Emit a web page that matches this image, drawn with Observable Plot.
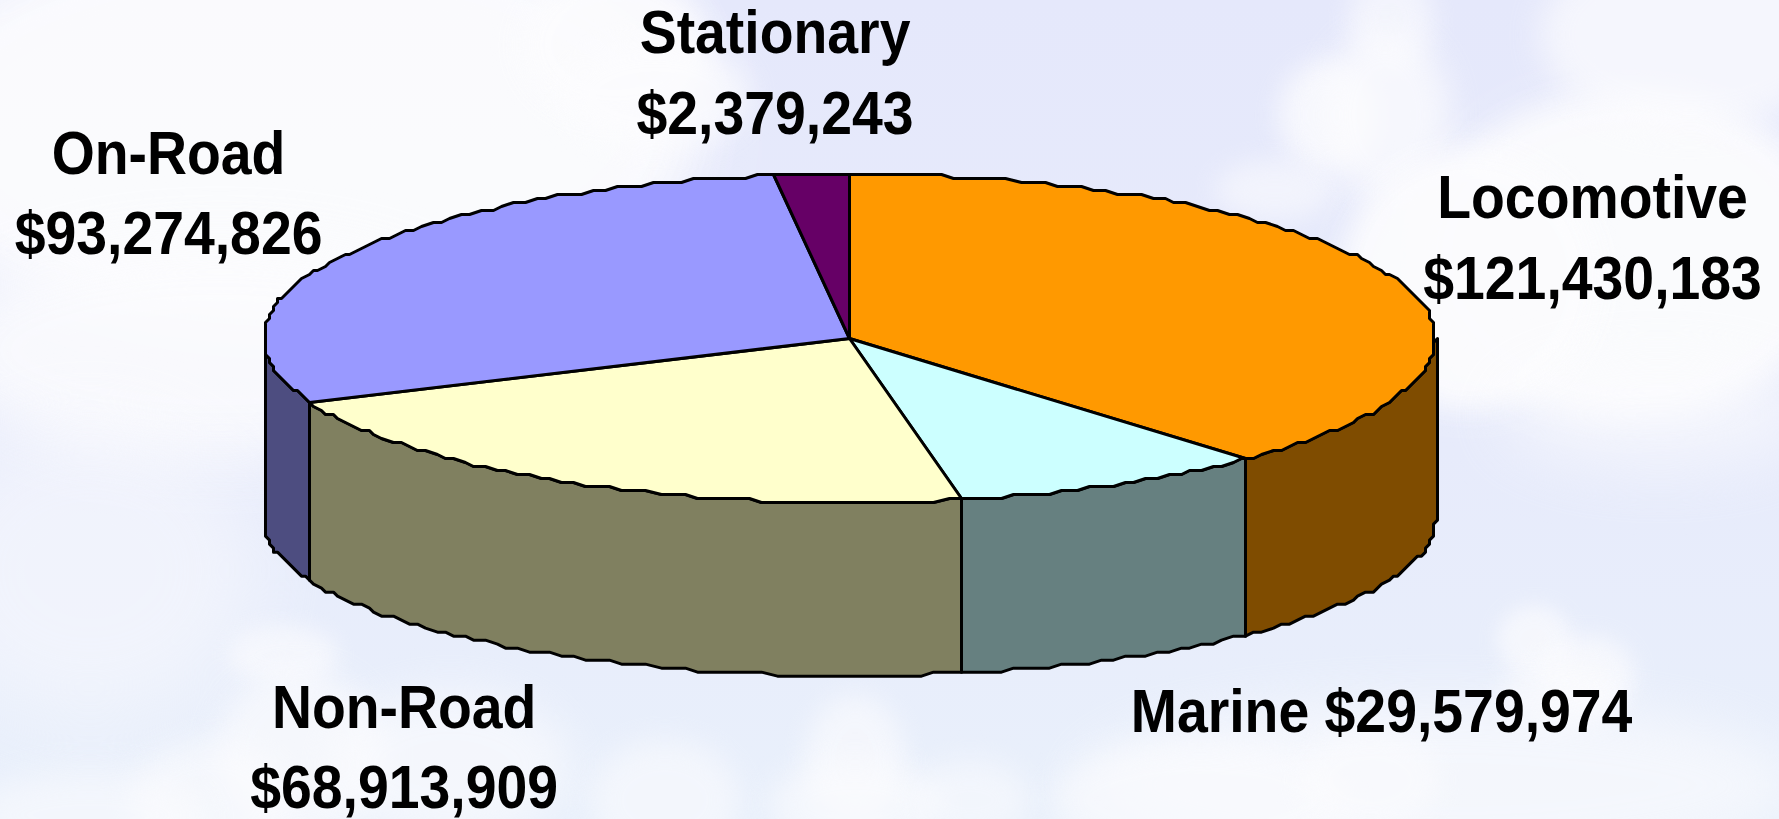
<!DOCTYPE html>
<html><head><meta charset="utf-8">
<script src="https://cdn.jsdelivr.net/npm/d3@7"></script>
<script src="https://cdn.jsdelivr.net/npm/@observablehq/plot@0.6"></script>
<style>
html,body{margin:0;padding:0;width:1779px;height:819px;overflow:hidden;background:linear-gradient(#e5e8fb 0,#e7ebfb 55%,#e9f0fb 100%)}
#sky{position:absolute;left:0;top:0;width:1779px;height:819px;overflow:hidden}
#sky i{position:absolute;display:block;border-radius:50%;background:#fcfcfe}
#chart{position:absolute;left:0;top:0}
#chart svg{display:block}
</style></head>
<body>
<div id="sky"></div>
<div id="chart"></div>
<script>
// Data
const categories = ["Locomotive", "Marine", "Non-Road", "On-Road", "Stationary"];
const dollars = [121430183, 29579974, 68913909, 93274826, 2379243];
// Sweep of each slice as actually drawn in the picture (degrees, clockwise from 12 o'clock)
const drawnSweep = [137.4, 31.6, 78.5, 105.2, 7.3];
const topColors = ["#ff9900", "#ccffff", "#ffffcc", "#9999ff", "#660066"];
const sideColors = ["#7f4c00", "#668080", "#808060", "#4d4d80", "#330033"];
const labelSeparators = ["\n", " ", "\n", "\n", "\n"];
const labelX = [1.268, 0.908, -0.76, -1.162, -0.127];
const labelY = [0.068, -0.672, -0.802, 0.144, 0.349];

// Disc geometry in disc-radius units
const tilt = 0.28, lowerTilt = 0.2654, depth = 0.31, unit = 586, cx = 849, cy = 338;
const rad = (d) => d * Math.PI / 180;
const q = 4 / unit; // the source picture's coarse pixel grid
const snap = (v) => Math.round(v / q) * q;
const rim = (t) => ({x: snap(Math.sin(rad(t))), y: snap(Math.cos(rad(t)) * tilt)});
const lowerRim = (t) => ({x: snap(Math.sin(rad(t))), y: snap(Math.cos(rad(t)) * lowerTilt) - depth});
function arc(a, b) {
  const ts = [a];
  for (let t = Math.ceil(a / 1.3) * 1.3; t < b; t += 1.3) if (t > a) ts.push(t);
  ts.push(b);
  return ts;
}
let acc = 0;
const slices = categories.map((name, i) => {
  const start = acc; acc += drawnSweep[i];
  return {name, start, end: acc, top: topColors[i], side: sideColors[i]};
});
const topPoly = (s) => [{x: 0, y: 0}, ...arc(s.start, s.end).map(rim), {x: 0, y: 0}];
const sidePoly = (s) => {
  const a = Math.max(s.start, 90), b = Math.min(s.end, 270);
  if (a >= b) return null;
  const ts = arc(a, b);
  const upper = ts.map(rim);
  const lower = ts.slice().reverse().map(lowerRim);
  return [...upper, ...lower, upper[0]];
};
const lineStyle = {x: "x", y: "y", stroke: "black", strokeWidth: 3, strokeLinejoin: "round", curve: "linear"};
const marks = [];
for (const s of slices) {
  const p = sidePoly(s);
  if (p) marks.push(Plot.line(p, {...lineStyle, fill: s.side}));
}
for (const s of slices) marks.push(Plot.line(topPoly(s), {...lineStyle, fill: s.top}));

const labels = categories.map((name, i) => ({
  text: name + labelSeparators[i] + d3.format("$,")(dollars[i]),
  x: labelX[i], y: labelY[i]
}));
marks.push(Plot.text(labels, {
  x: "x", y: "y", text: "text", textAnchor: "middle", lineAnchor: "bottom",
  lineHeight: 1.3, fontSize: 62, fontWeight: 700, fontFamily: "Liberation Sans", fill: "black"
}));

const chart = Plot.plot({
  width: 1779, height: 819, margin: 0,
  x: {domain: [-cx / unit, (1779 - cx) / unit], range: [0, 1779], axis: null},
  y: {domain: [cy / unit, (cy - 819) / unit], range: [0, 819], axis: null},
  style: {background: "transparent", overflow: "visible"},
  marks
});
document.getElementById("chart").appendChild(chart);
// The reference's lettering is stretched tall: narrow each label about its anchor
d3.select(chart).selectAll("text").each(function () {
  const tr = this.getAttribute("transform") || "";
  this.setAttribute("transform", tr + " scale(0.893,1)");
});

// Decorative cloud backdrop: [left, top, width, height, blur, opacity]
const clouds = [
  // upper-left bank
  [-120,-80,820,420,30,.95],[-60,240,560,220,30,.85],[520,-30,190,150,14,.9],[560,40,190,110,14,.75],
  [-80,420,340,300,40,.45],
  // right cloud: tower, shoulders, main mass
  [1348,-30,86,100,12,.6],[1278,60,100,110,12,.75],[1215,160,120,60,12,.55],[1320,30,130,170,16,.75],
  [1420,90,420,330,16,.95],[1540,-60,300,190,16,.7],[1340,150,260,260,14,.95],
  [1500,360,320,110,30,.55],
  // lower-right
  [1497,605,75,70,9,.65],[1540,635,95,80,10,.65],[1500,660,120,70,12,.6],
  [1080,700,720,170,26,.6],[1050,740,300,120,14,.55],[1300,730,140,100,12,.55],
  // lower-left and centre
  [228,625,110,60,10,.6],[215,670,170,170,14,.65],[130,740,160,120,14,.6],[-30,770,240,90,16,.55],
  [330,690,240,150,20,.6],[590,740,150,120,14,.55],
  [805,695,100,130,12,.6],[770,760,170,90,14,.6],[910,760,120,80,14,.5]
];
const sky = document.getElementById("sky");
for (const [l,t,w,h,b,o] of clouds) {
  const e = document.createElement("i");
  e.style.cssText = `left:${l}px;top:${t}px;width:${w}px;height:${h}px;filter:blur(${b}px);opacity:${o}`;
  sky.appendChild(e);
}
</script>
</body></html>
